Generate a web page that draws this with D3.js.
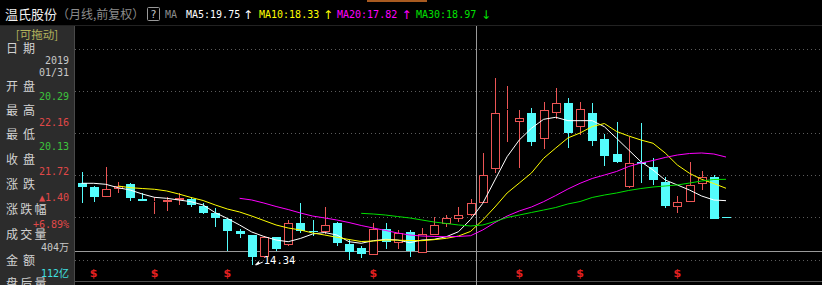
<!DOCTYPE html>
<html>
<head>
<meta charset="utf-8">
<script src="https://cdn.jsdelivr.net/npm/d3@7"></script>
<style>
html, body { margin: 0; padding: 0; background: #000; }
svg { display: block; }
</style>
</head>
<body>
<div id="viz"></div>
<script>
// monthly bars, 温氏股份 (forward adjusted)
let months = [
	"2016/05","2016/06","2016/07","2016/08","2016/09","2016/10","2016/11","2016/12",
	"2017/01","2017/02","2017/03","2017/04","2017/05","2017/06","2017/07","2017/08","2017/09","2017/10","2017/11","2017/12",
	"2018/01","2018/02","2018/03","2018/04","2018/05","2018/06","2018/07","2018/08","2018/09","2018/10","2018/11","2018/12",
	"2019/01","2019/02","2019/03","2019/04","2019/05","2019/06","2019/07","2019/08","2019/09","2019/10","2019/11","2019/12",
	"2020/01","2020/02","2020/03","2020/04","2020/05","2020/06","2020/07","2020/08","2020/09","2020/10"
];
let open = [24.10,23.63,22.44,23.32,23.95,22.20,21.81,21.85,22.05,22.13,21.34,20.47,19.76,18.41,17.90,15.26,17.63,16.72,19.35,18.38,
	18.29,19.27,16.84,16.33,15.59,18.58,16.99,18.29,15.81,17.90,19.21,19.76,20.29,21.73,25.69,32.71,31.33,32.32,29.24,32.39,
	33.58,30.66,32.32,29.24,27.50,23.63,26.55,25.92,24.22,21.26,21.85,23.95,24.81,20.00];
let high = [25.40,23.70,26.00,24.22,24.10,22.84,22.37,22.44,22.91,22.44,21.69,21.07,19.88,18.58,17.95,17.78,17.70,19.68,21.66,19.68,
	21.26,19.48,17.31,16.60,19.29,19.29,18.44,18.50,18.73,20.07,20.27,21.26,22.16,27.58,36.47,35.56,32.71,32.91,33.70,35.28,
	34.10,33.70,33.58,29.87,31.33,29.55,31.14,26.99,24.81,22.52,26.59,25.52,25.01,20.00];
let low = [21.73,21.85,22.40,22.84,21.97,21.90,20.39,20.78,21.46,21.18,20.39,18.90,16.01,17.51,14.34,15.14,16.04,16.60,18.10,17.78,
	18.02,16.60,14.94,15.18,15.53,16.24,16.24,15.30,15.81,17.90,18.89,19.48,20.13,21.66,25.21,28.96,25.81,28.45,28.06,31.61,
	28.18,29.75,28.45,26.08,26.40,23.44,24.10,23.83,21.07,20.47,21.85,23.23,19.76,19.88];
let close = [23.63,22.44,23.32,23.71,22.25,21.97,21.97,22.05,22.25,21.46,20.47,19.88,18.41,18.02,15.26,17.63,16.21,19.36,18.41,18.26,
	19.09,16.92,15.89,15.71,18.58,17.11,18.18,16.04,17.99,19.09,19.88,20.32,21.72,25.01,32.32,32.80,31.73,28.96,32.71,33.51,
	30.02,32.80,29.08,27.26,26.59,26.40,26.32,24.42,21.34,21.85,23.83,24.74,19.76,19.88];

// moving averages (null = not drawn)
let ma5 = [24.03,24.03,23.91,23.51,23.23,22.76,22.37,22.25,22.05,21.85,21.46,20.55,19.86,19.09,18.26,17.73,17.31,17.11,17.49,18.02,
	18.20,17.90,17.11,16.92,17.23,17.39,17.31,16.99,17.31,17.39,17.70,18.29,19.75,21.66,24.42,27.18,29.16,30.55,31.61,31.85,
	31.45,31.45,31.45,30.73,29.36,27.97,26.59,25.60,24.42,23.83,23.23,22.52,22.05,21.97];
let ma10 = [null,null,null,23.71,23.51,23.41,23.32,23.12,22.76,22.35,21.99,21.46,20.98,20.63,20.15,19.62,19.09,18.73,18.50,18.14,
	17.90,17.63,17.37,17.13,17.19,17.31,17.29,17.25,17.23,17.35,17.51,17.78,18.33,19.68,21.22,22.88,24.06,25.25,26.99,28.21,
	29.40,29.99,30.76,31.11,30.17,29.63,29.16,28.77,27.62,26.20,25.21,24.50,24.00,23.44];
let ma20 = [null,null,null,null,null,null,null,null,null,null,null,null,null,22.25,22.05,21.69,21.28,20.92,20.51,20.15,
	19.92,19.68,19.38,19.03,18.73,18.44,18.14,17.90,17.78,17.73,17.70,17.73,17.82,18.50,19.38,20.15,20.75,21.22,21.85,22.58,
	23.35,24.03,24.60,25.01,25.43,26.02,26.43,26.73,27.09,27.38,27.56,27.62,27.50,27.14];
let ma30 = [null,null,null,null,null,null,null,null,null,null,null,null,null,null,null,null,null,null,null,null,
	null,null,null,20.47,20.39,20.27,20.09,19.92,19.68,19.44,19.27,19.09,18.97,19.09,19.50,19.98,20.27,20.57,20.86,21.16,
	21.58,21.87,22.35,22.64,22.88,23.18,23.41,23.59,23.71,23.83,24.06,24.30,24.48,24.50];

let maNames = ["MA5", "MA10", "MA20", "MA30"];
let gridPrices = [15, 20, 25, 30, 35, 40];
let signalMonths = ["2016/06", "2016/11", "2017/05", "2018/05", "2019/05", "2019/10", "2020/06"];
let cursorMonth = "2019/01";
let crossPrice = 16.0;

let infoLabels = ["日 期", "开 盘", "最 高", "最 低", "收 盘", "涨 跌", "涨跌幅", "成交量", "金 额", "盘后量"];
let infoValues = ["2019", "01/31", "20.29", "22.16", "20.13", "21.72", "▲1.40", "+6.89%", "404万", "112亿"];

const W = 822, H = 285;
const RED = "#ec5555", CYAN = "#54fcfc";
const maColors = ["#ffffff", "#ffff00", "#ff00ff", "#00e000"];
const MONO = "'DejaVu Sans Mono', monospace";
const CJK = "'Noto Sans CJK SC', sans-serif";

let svg = d3.select("#viz").append("svg")
	.attr("width", W).attr("height", H);

svg.append("rect").attr("width", W).attr("height", H).attr("fill", "#000");

let x = d3.scalePoint().domain(months).range([81.5, 726]);
let y = d3.scaleLinear().domain([15, 40]).range([259.5, 48.5]);

// dotted grid
svg.selectAll(".grid").data(gridPrices).join("line")
	.attr("x1", 75).attr("x2", W)
	.attr("y1", d => Math.round(y(d)) + 0.5).attr("y2", d => Math.round(y(d)) + 0.5)
	.attr("stroke", "#5c5c5c").attr("stroke-dasharray", "1,3");

// bottom separator
svg.append("line").attr("x1", 75).attr("x2", W).attr("y1", 281.5).attr("y2", 281.5)
	.attr("stroke", "#505050");

// crosshair
let cx0 = Math.round(x(cursorMonth) + x.step() * 0.42) + 0.5;
svg.append("line").attr("x1", cx0).attr("x2", cx0).attr("y1", 26).attr("y2", H)
	.attr("stroke", "#9a9a9a");
svg.append("line").attr("x1", 75).attr("x2", W)
	.attr("y1", Math.round(y(crossPrice)) + 0.5).attr("y2", Math.round(y(crossPrice)) + 0.5)
	.attr("stroke", "#9a9a9a");

// candles
let bars = months.map((m, i) => ({m: m, o: open[i], h: high[i], l: low[i], c: close[i]}));
let g = svg.append("g");
bars.forEach(d => {
	let cx = Math.round(x(d.m));
	let up = d.c >= d.o;
	let col = up ? RED : CYAN;
	let top = Math.round(y(Math.max(d.o, d.c)));
	let bot = Math.round(y(Math.min(d.o, d.c)));
	let hy = Math.round(y(d.h)), ly = Math.round(y(d.l));
	g.append("line").attr("x1", cx + 0.5).attr("x2", cx + 0.5)
		.attr("y1", hy).attr("y2", top).attr("stroke", col);
	g.append("line").attr("x1", cx + 0.5).attr("x2", cx + 0.5)
		.attr("y1", bot).attr("y2", ly).attr("stroke", col);
	if (up) {
		g.append("rect").attr("x", cx - 3.5).attr("y", top + 0.5)
			.attr("width", 8).attr("height", Math.max(bot - top - 1, 0))
			.attr("fill", "#000").attr("stroke", col);
	} else {
		g.append("rect").attr("x", cx - 4).attr("y", top)
			.attr("width", 9).attr("height", Math.max(bot - top, 1))
			.attr("fill", col);
	}
});

// moving averages
[ma5, ma10, ma20, ma30].forEach((arr, k) => {
	let line = d3.line()
		.defined(d => d[1] != null)
		.x(d => x(d[0]))
		.y(d => y(d[1]));
	svg.append("path")
		.attr("d", line(months.map((m, i) => [m, arr[i]])))
		.attr("fill", "none")
		.attr("stroke", maColors[k])
		.attr("stroke-width", 1);
});

// lowest price marker
let iLow = d3.minIndex(low);
let lx = x(months[iLow]), lyy = y(low[iLow]);
svg.append("line").attr("x1", lx + 11).attr("y1", lyy - 3).attr("x2", lx + 4).attr("y2", lyy)
	.attr("stroke", "#fff");
svg.append("path").attr("d", `M${lx + 3},${lyy} l4,-4 l1,3 z`).attr("fill", "#fff");
svg.append("text").attr("x", lx + 12).attr("y", lyy - 1.5)
	.attr("font-family", MONO).attr("font-size", 10.5).attr("fill", "#fff")
	.text(low[iLow].toFixed(2));

// signal marks
svg.selectAll(".sig").data(signalMonths).join("text")
	.attr("x", d => x(d)).attr("y", 277)
	.attr("text-anchor", "middle")
	.attr("font-family", "'DejaVu Sans', sans-serif").attr("font-weight", "bold")
	.attr("font-size", 11).attr("fill", "#e42020")
	.text("$");

// title bar
svg.append("rect").attr("x", 367).attr("y", 0).attr("width", 60).attr("height", 2).attr("fill", "#a85a20");
svg.append("line").attr("x1", 0).attr("x2", W).attr("y1", 25.5).attr("y2", 25.5).attr("stroke", "#222");
svg.append("text").attr("x", 5).attr("y", 18.5)
	.attr("font-family", CJK).attr("font-size", 13).attr("fill", "#f0f0f0").text("温氏股份");
svg.append("text").attr("x", 57).attr("y", 18.5)
	.attr("font-family", CJK).attr("font-size", 12).attr("fill", "#8c8c8c").text("（月线,前复权）");
svg.append("rect").attr("x", 147.5).attr("y", 7.5).attr("width", 12).attr("height", 13)
	.attr("fill", "none").attr("stroke", "#9a9a9a").attr("rx", 1);
svg.append("text").attr("x", 153.5).attr("y", 18)
	.attr("text-anchor", "middle").attr("font-family", MONO).attr("font-size", 10.5)
	.attr("fill", "#c8c8c8").text("?");
svg.append("text").attr("x", 165).attr("y", 18)
	.attr("font-family", MONO).attr("font-size", 10).attr("fill", "#8c8c8c").text("MA");

let ci = months.indexOf(cursorMonth);
let maStart = [186, 259, 337, 416];
let arrowX = [248, 328, 406.5, 486];
[ma5, ma10, ma20, ma30].forEach((arr, k) => {
	let v = arr[ci], pv = arr[ci - 1];
	svg.append("text").attr("x", maStart[k]).attr("y", 18)
		.attr("font-family", MONO).attr("font-size", 10).attr("fill", maColors[k])
		.text(maNames[k] + ":" + v.toFixed(2));
	svg.append("text").attr("x", arrowX[k]).attr("y", 19)
		.attr("text-anchor", "middle")
		.attr("font-family", "'DejaVu Sans', sans-serif").attr("font-size", 12)
		.attr("fill", maColors[k])
		.text(v >= pv ? "↑" : "↓");
});

// left info panel
svg.append("rect").attr("x", 0).attr("y", 26).attr("width", 74).attr("height", H - 26)
	.attr("fill", "#2c2c2c");
svg.append("line").attr("x1", 74.5).attr("x2", 74.5).attr("y1", 26).attr("y2", H)
	.attr("stroke", "#4a4a4a");
svg.append("text").attr("x", 37).attr("y", 38.5)
	.attr("text-anchor", "middle").attr("font-family", CJK).attr("font-size", 11.5)
	.attr("fill", "#b4b45c").text("[可拖动]");

let labelY = [49, 86.7, 111, 134.3, 160, 185, 210, 235, 261, 284];
infoLabels.forEach((s, i) => {
	let t = svg.append("text").attr("y", labelY[i] + 4.3)
		.attr("font-family", CJK).attr("font-size", 12).attr("fill", "#d2d2d2");
	if (s.indexOf(" ") >= 0) {
		t.append("tspan").attr("x", 6).text(s[0]);
		t.append("tspan").attr("x", 23).text(s[2]);
	} else {
		t.attr("x", 6).attr("letter-spacing", 2.3).text(s);
	}
});

let valueY = [60, 72.3, 96.7, 122.7, 146.7, 171.7, 197.7, 224, 247.7, 273.3];
let valueCol = ["#c8c8c8", "#c8c8c8", "#3cc43c", "#e04848", "#3cc43c", "#e04848", "#e04848", "#e04848", "#c8c8c8", "#40e0e0"];
infoValues.forEach((s, i) => {
	svg.append("text").attr("x", 69).attr("y", valueY[i] + 3.6)
		.attr("text-anchor", "end")
		.attr("font-family", MONO + ", " + CJK).attr("font-size", 10)
		.attr("fill", valueCol[i]).text(s);
});
</script>
</body>
</html>
